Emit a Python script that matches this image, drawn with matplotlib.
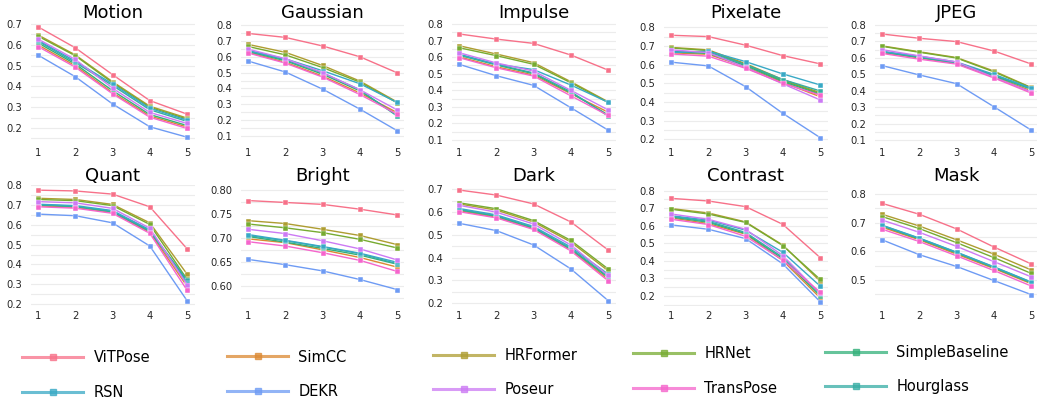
import matplotlib
matplotlib.use("Agg")
import matplotlib.pyplot as plt
from matplotlib.lines import Line2D
from matplotlib.ticker import MultipleLocator
import seaborn as sns

models = ["ViTPose", "SimCC", "HRFormer", "HRNet", "SimpleBaseline",
          "Hourglass", "RSN", "DEKR", "Poseur", "TransPose"]
severity = [1, 2, 3, 4, 5]

# values per corruption, rows in the order of `models`
motion = [
    [0.687, 0.586, 0.457, 0.332, 0.267],
    [0.600, 0.500, 0.370, 0.258, 0.205],
    [0.648, 0.552, 0.423, 0.305, 0.248],
    [0.642, 0.548, 0.418, 0.300, 0.243],
    [0.610, 0.508, 0.380, 0.265, 0.212],
    [0.618, 0.515, 0.405, 0.288, 0.232],
    [0.622, 0.522, 0.412, 0.295, 0.238],
    [0.551, 0.447, 0.316, 0.206, 0.156],
    [0.628, 0.530, 0.392, 0.275, 0.222],
    [0.592, 0.493, 0.365, 0.252, 0.198],
]
gaussian = [
    [0.747, 0.722, 0.668, 0.600, 0.499],
    [0.628, 0.565, 0.478, 0.372, 0.248],
    [0.678, 0.628, 0.545, 0.447, 0.315],
    [0.665, 0.612, 0.532, 0.440, 0.310],
    [0.633, 0.575, 0.490, 0.385, 0.232],
    [0.637, 0.580, 0.498, 0.392, 0.226],
    [0.640, 0.587, 0.512, 0.430, 0.312],
    [0.573, 0.504, 0.396, 0.270, 0.134],
    [0.648, 0.588, 0.500, 0.392, 0.265],
    [0.624, 0.560, 0.472, 0.362, 0.238],
]
impulse = [
    [0.740, 0.709, 0.683, 0.613, 0.522],
    [0.602, 0.542, 0.492, 0.380, 0.268],
    [0.669, 0.619, 0.567, 0.452, 0.331],
    [0.657, 0.609, 0.557, 0.446, 0.327],
    [0.612, 0.553, 0.500, 0.385, 0.252],
    [0.618, 0.556, 0.505, 0.392, 0.245],
    [0.615, 0.558, 0.525, 0.432, 0.328],
    [0.557, 0.488, 0.430, 0.295, 0.160],
    [0.627, 0.565, 0.516, 0.400, 0.282],
    [0.597, 0.536, 0.486, 0.367, 0.248],
]
pixelate = [
    [0.757, 0.750, 0.704, 0.648, 0.604],
    [0.663, 0.655, 0.588, 0.505, 0.428],
    [0.692, 0.679, 0.605, 0.520, 0.450],
    [0.689, 0.675, 0.600, 0.515, 0.445],
    [0.668, 0.660, 0.595, 0.510, 0.440],
    [0.670, 0.668, 0.600, 0.520, 0.459],
    [0.664, 0.672, 0.616, 0.550, 0.491],
    [0.613, 0.593, 0.482, 0.339, 0.209],
    [0.679, 0.664, 0.585, 0.497, 0.411],
    [0.657, 0.645, 0.580, 0.500, 0.437],
]
jpeg = [
    [0.745, 0.719, 0.699, 0.642, 0.563],
    [0.632, 0.600, 0.565, 0.485, 0.400],
    [0.673, 0.637, 0.602, 0.520, 0.420],
    [0.670, 0.634, 0.599, 0.515, 0.418],
    [0.635, 0.602, 0.568, 0.490, 0.410],
    [0.637, 0.605, 0.570, 0.495, 0.412],
    [0.640, 0.610, 0.575, 0.500, 0.416],
    [0.553, 0.496, 0.443, 0.303, 0.161],
    [0.650, 0.612, 0.575, 0.482, 0.393],
    [0.627, 0.592, 0.562, 0.478, 0.386],
]
quant = [
    [0.775, 0.771, 0.755, 0.691, 0.479],
    [0.696, 0.688, 0.662, 0.562, 0.290],
    [0.734, 0.728, 0.703, 0.610, 0.351],
    [0.728, 0.722, 0.697, 0.602, 0.325],
    [0.700, 0.692, 0.665, 0.567, 0.315],
    [0.702, 0.694, 0.667, 0.570, 0.322],
    [0.704, 0.697, 0.672, 0.575, 0.305],
    [0.654, 0.646, 0.610, 0.493, 0.217],
    [0.717, 0.711, 0.683, 0.583, 0.298],
    [0.691, 0.684, 0.658, 0.557, 0.270],
]
bright = [
    [0.778, 0.774, 0.770, 0.760, 0.748],
    [0.698, 0.690, 0.675, 0.659, 0.639],
    [0.736, 0.730, 0.718, 0.705, 0.686],
    [0.729, 0.721, 0.711, 0.697, 0.679],
    [0.703, 0.691, 0.678, 0.664, 0.645],
    [0.705, 0.694, 0.681, 0.667, 0.646],
    [0.707, 0.695, 0.682, 0.668, 0.649],
    [0.655, 0.644, 0.631, 0.613, 0.592],
    [0.718, 0.709, 0.694, 0.677, 0.654],
    [0.692, 0.683, 0.669, 0.653, 0.630],
]
dark = [
    [0.697, 0.675, 0.636, 0.557, 0.434],
    [0.606, 0.578, 0.527, 0.434, 0.305],
    [0.636, 0.609, 0.557, 0.469, 0.343],
    [0.641, 0.615, 0.563, 0.476, 0.351],
    [0.610, 0.582, 0.530, 0.438, 0.313],
    [0.612, 0.585, 0.533, 0.441, 0.318],
    [0.616, 0.588, 0.537, 0.447, 0.328],
    [0.551, 0.519, 0.456, 0.351, 0.212],
    [0.630, 0.600, 0.548, 0.456, 0.322],
    [0.602, 0.575, 0.524, 0.430, 0.299],
]
contrast = [
    [0.756, 0.741, 0.709, 0.608, 0.419],
    [0.645, 0.612, 0.552, 0.402, 0.190],
    [0.698, 0.673, 0.622, 0.490, 0.285],
    [0.694, 0.667, 0.619, 0.487, 0.295],
    [0.650, 0.620, 0.556, 0.412, 0.202],
    [0.654, 0.625, 0.562, 0.420, 0.212],
    [0.657, 0.632, 0.575, 0.449, 0.257],
    [0.605, 0.580, 0.527, 0.383, 0.168],
    [0.667, 0.637, 0.580, 0.430, 0.215],
    [0.637, 0.607, 0.540, 0.405, 0.222],
]
mask = [
    [0.767, 0.729, 0.678, 0.615, 0.556],
    [0.684, 0.640, 0.590, 0.540, 0.487],
    [0.729, 0.688, 0.640, 0.590, 0.535],
    [0.721, 0.679, 0.630, 0.578, 0.523],
    [0.688, 0.643, 0.594, 0.543, 0.490],
    [0.690, 0.645, 0.596, 0.545, 0.492],
    [0.691, 0.646, 0.597, 0.546, 0.493],
    [0.640, 0.588, 0.547, 0.498, 0.449],
    [0.709, 0.666, 0.617, 0.564, 0.511],
    [0.677, 0.634, 0.584, 0.533, 0.479],
]

titles = ["Motion", "Gaussian", "Impulse", "Pixelate", "JPEG",
          "Quant", "Bright", "Dark", "Contrast", "Mask"]
datasets = [motion, gaussian, impulse, pixelate, jpeg,
            quant, bright, dark, contrast, mask]
ylims = [(0.128, 0.710), (0.056, 0.819), (0.082, 0.812), (0.180, 0.828), (0.082, 0.818),
         (0.190, 0.801), (0.5576, 0.8105), (0.188, 0.719), (0.143, 0.832), (0.409, 0.831)]
ysteps = [0.1, 0.1, 0.1, 0.1, 0.1, 0.1, 0.05, 0.1, 0.1, 0.1]
yfmt = ["{:.1f}"] * 6 + ["{:.2f}"] + ["{:.1f}"] * 3

colors = sns.color_palette("husl", 10)

W, H = 1037, 404
fig = plt.figure(figsize=(W / 100, H / 100), dpi=100)

col_left = [30.5, 240.5, 451.5, 663.5, 874.5]
ax_w = 164
row_top = [22, 185]
ax_h = 121

for k, (title, data) in enumerate(zip(titles, datasets)):
    r, c = divmod(k, 5)
    ax = fig.add_axes([col_left[c] / W, 1 - (row_top[r] + ax_h) / H, ax_w / W, ax_h / H])
    for i, m in enumerate(models):
        ax.plot(severity, data[i], color=colors[i], lw=1.0, marker="s", ms=3.6,
                mec="white", mew=0.3, zorder=3)
    ax.set_xlim(0.8, 5.2)
    ax.set_ylim(*ylims[k])
    ax.set_xticks(severity)
    ax.yaxis.set_major_locator(MultipleLocator(ysteps[k]))
    ax.yaxis.set_minor_locator(MultipleLocator(ysteps[k] / 2))
    fmt = yfmt[k]
    ax.yaxis.set_major_formatter(matplotlib.ticker.FuncFormatter(lambda v, p, f=fmt: f.format(v)))
    ax.grid(axis="y", which="both", color="#ececec", lw=0.8, zorder=0)
    ax.grid(axis="x", visible=False)
    for s in ax.spines.values():
        s.set_visible(False)
    ax.tick_params(axis="both", which="both", length=0, labelsize=7.2, colors="#262626")
    ax.tick_params(axis="y", pad=6)
    ax.tick_params(axis="x", pad=3.5)
    ax.set_title(title, fontsize=13, pad=3)
    ax.set_axisbelow(True)

# legend: five columns, two rows
legend_cols = [["ViTPose", "RSN"], ["SimCC", "DEKR"], ["HRFormer", "Poseur"],
               ["HRNet", "TransPose"], ["SimpleBaseline", "Hourglass"]]
leg_x = [22, 227, 433, 633, 825]
leg_ytop = [350, 349.5, 347.7, 346.3, 344.7]
for col, x, yt in zip(legend_cols, leg_x, leg_ytop):
    handles = []
    for name in col:
        ci = models.index(name)
        handles.append(Line2D([0], [0], color=colors[ci], lw=2.2, alpha=0.75,
                              marker="s", ms=4.5, markevery=[0]))
    lg = fig.legend(handles, col, loc="upper left", bbox_to_anchor=(x / W, 1 - yt / H),
                    frameon=False, fontsize=10.5, handlelength=4.2, handletextpad=0.7,
                    labelspacing=1.35, borderpad=0, borderaxespad=0, numpoints=1)

fig.savefig("out.png", dpi=100)
